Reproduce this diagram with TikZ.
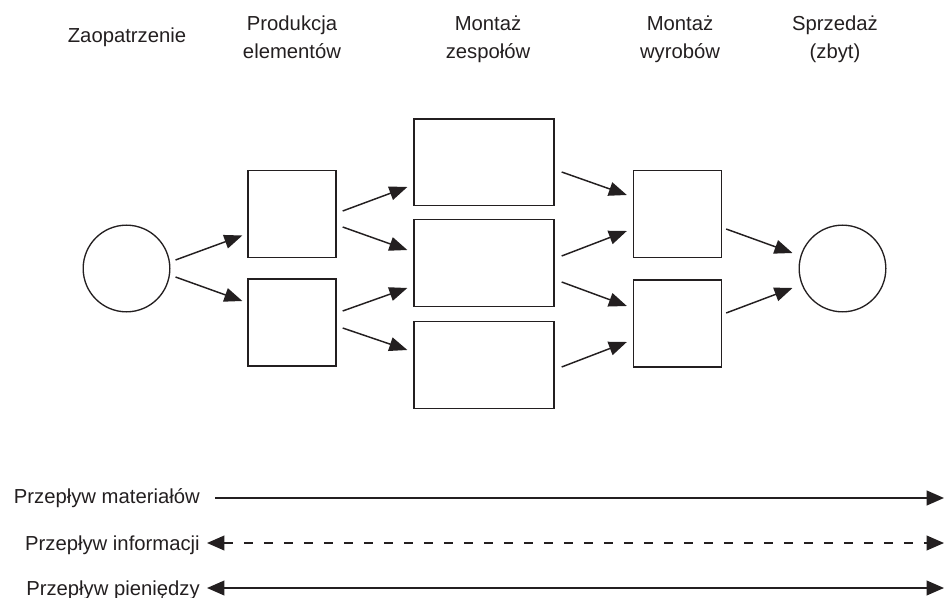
\documentclass[tikz,border=0pt]{standalone}
\usepackage{fontspec}
\setmainfont{Liberation Sans}
\usepackage{xcolor}
\usetikzlibrary{arrows.meta,calc}
\definecolor{ink}{HTML}{231F20}

\begin{document}
\begin{tikzpicture}[x=0.75pt,y=-0.75pt,ink,
        font=\fontsize{15.2}{21}\selectfont,
        >={Triangle[length=13pt,width=11pt]},
        box/.style={draw, line width=1pt, minimum width=66pt, minimum height=65pt, inner sep=0pt},
        wide/.style={box, minimum width=105pt},
        term/.style={draw, circle, line width=1pt, minimum size=65pt, inner sep=0pt},
        head/.style={align=center, anchor=base},
        legend/.style={anchor=base east, inner sep=0pt},
        flow/.style={line width=1.1pt, -{Triangle[length=13.5pt,width=10.5pt]}}]
        \useasboundingbox (0,0) rectangle (945,598);
        % column headers
        \node[head] (h_1) at (127,43)  {Zaopatrzenie};
        \node[head] (h_2) at (292,59)  {Produkcja\\elementów};
        \node[head] (h_3) at (488,59)  {Montaż\\zespołów};
        \node[head] (h_4) at (680,59)  {Montaż\\wyrobów};
        \node[head] (h_5) at (835,59)  {Sprzedaż\\(zbyt)};
        % chain
        \node[term] (c_1) at (126.5,268.5) {};
        \node[box]  (p_1) at (292,214)     {};
        \node[box]  (p_2) at (292,322.5)   {};
        \node[wide] (z_1) at (484,162.5)   {};
        \node[wide] (z_2) at (484,263)     {};
        \node[wide] (z_3) at (484,365)     {};
        \node[box]  (w_1) at (677.5,214)   {};
        \node[box]  (w_2) at (677.5,323.5) {};
        \node[term] (c_2) at (842.5,268.5) {};
        \path[flow]
        ($(c_1.east)+(5,-8.5)$) edge ($(p_1.west)+(-5,21.5)$)
        ($(c_1.east)+(5,8.5)$)  edge ($(p_2.west)+(-5,-21.5)$)
        ($(p_1.east)+(6,-3)$)   edge ($(z_1.west)+(-6,24.5)$)
        ($(p_1.east)+(6,13)$)   edge ($(z_2.west)+(-6,-13)$)
        ($(p_2.east)+(6,-11.5)$) edge ($(z_2.west)+(-6,25)$)
        ($(p_2.east)+(6,5.5)$)  edge ($(z_3.west)+(-6,-15)$)
        ($(z_1.east)+(7,9.5)$)  edge ($(w_1.west)+(-6,-19)$)
        ($(z_2.east)+(7,-7)$)   edge ($(w_1.west)+(-6,17)$)
        ($(z_2.east)+(7,19)$)   edge ($(w_2.west)+(-6,-17.5)$)
        ($(z_3.east)+(7,2)$)    edge ($(w_2.west)+(-6,18.5)$)
        ($(w_1.east)+(4,15)$)   edge ($(c_2.west)+(-6,-15.5)$)
        ($(w_2.east)+(4,-10.5)$) edge ($(c_2.west)+(-6,19.5)$);
        % legend
        \node[legend] (l_1) at (200,503) {Przepływ materiałów};
        \node[legend] (l_2) at (200,550) {Przepływ informacji};
        \node[legend] (l_3) at (200,595) {Przepływ pieniędzy};
        \coordinate (m_a) at (215,498);
        \coordinate (m_b) at (944,498);
        \coordinate (i_a) at (207,543);
        \coordinate (i_b) at (944,543);
        \coordinate (p_a) at (207,588);
        \coordinate (p_b) at (944,588);
        \draw[line width=1.6pt, ->] (m_a) -- (m_b);
        \draw[line width=1.2pt, dash pattern=on 7pt off 8pt, <->] (i_a) -- (i_b);
        \draw[line width=1.2pt, <->] (p_a) -- (p_b);
\end{tikzpicture}
\end{document}
